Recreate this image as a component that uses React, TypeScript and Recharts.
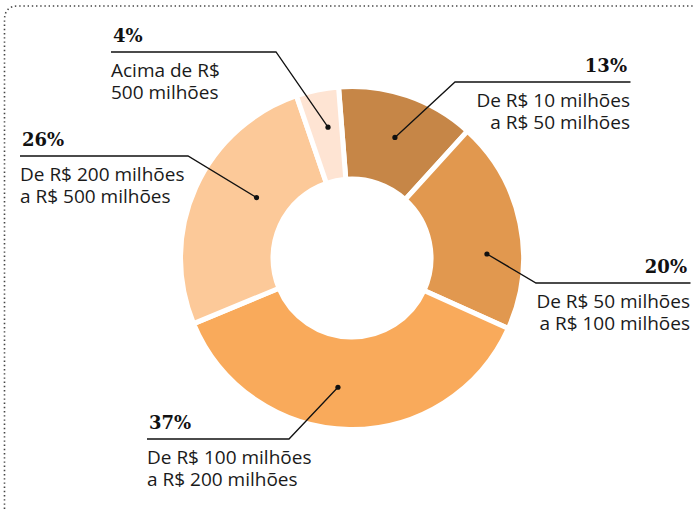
import { Pie, PieChart, Cell } from "recharts";

const faixas = [
  ["De R$ 10 milhões", "a R$ 50 milhões"],
  ["De R$ 50 milhões", "a R$ 100 milhões"],
  ["De R$ 100 milhões", "a R$ 200 milhões"],
  ["De R$ 200 milhões", "a R$ 500 milhões"],
  ["Acima de R$", "500 milhões"],
];
const percentuais = [13, 20, 37, 26, 4];
const cores = ["#c68647", "#e1984f", "#f9aa5b", "#fcc999", "#fee4d3"];

const data = percentuais.map((v, i) => ({ name: faixas[i].join(" "), value: v }));

// posição das chamadas: ajuste do ângulo do ponto, raio, cotovelo e fim da linha
const chamadas = [
  { shift: -0.7, r: 128, ex: 455, ey: 82, tx: 630, anchor: "end" },
  { shift: -10, r: 135, ex: 536, ey: 283, tx: 690, anchor: "end" },
  { shift: -5.3, r: 130, ex: 289, ey: 439, tx: 147, anchor: "start" },
  { shift: -8, r: 113, ex: 188, ey: 156, tx: 20, anchor: "start" },
  { shift: -1.3, r: 133, ex: 276, ey: 52, tx: 111, anchor: "start" },
];

const RAD = Math.PI / 180;

function Chamada(props: any) {
  const { cx, cy, midAngle, index } = props;
  const c = chamadas[index];
  const a = (midAngle + c.shift) * RAD;
  const dx = cx + c.r * Math.cos(a);
  const dy = cy - c.r * Math.sin(a);
  const endX = c.anchor === "end" ? c.tx + 0.5 : c.tx;
  return (
    <g>
      <circle cx={dx} cy={dy} r={2.6} fill="#111" />
      <polyline
        points={`${dx},${dy} ${c.ex},${c.ey} ${endX},${c.ey}`}
        fill="none"
        stroke="#111"
        strokeWidth={1.3}
      />
      <text
        x={c.anchor === "end" ? c.tx - 3 : c.tx + 2}
        y={c.ey - 10}
        textAnchor={c.anchor}
        fontFamily="'DejaVu Serif', serif"
        fontWeight="bold"
        fontSize={18}
        fill="#111"
      >
        {percentuais[index]}%
      </text>
      <text
        x={c.tx}
        y={c.ey + 25}
        textAnchor={c.anchor}
        fontFamily="'Open Sans', sans-serif"
        fontSize={19}
        fill="#1a1a1a"
      >
        {faixas[index].map((t, k) => (
          <tspan key={k} x={c.tx} dy={k === 0 ? 0 : 22}>
            {t}
          </tspan>
        ))}
      </text>
    </g>
  );
}

export default function App() {
  return (
    <div style={{ position: "absolute", left: 0, top: 0, width: 697, height: 509, background: "#fff" }}>
      <svg width={697} height={509} style={{ position: "absolute", left: 0, top: 0 }}>
        <path
          d="M4.5 509 V20 Q4.5 6 18 6 H694"
          fill="none"
          stroke="#444"
          strokeWidth={1.6}
          strokeDasharray="1.4 2.8"
        />
      </svg>
      <div style={{ position: "absolute", left: 0, top: 0 }}>
        <PieChart width={697} height={509} margin={{ top: 0, right: 0, bottom: 0, left: 0 }}>
          <Pie
            data={data}
            dataKey="value"
            nameKey="name"
            cx={352}
            cy={258}
            innerRadius={79}
            outerRadius={171.5}
            startAngle={94.5}
            endAngle={-265.5}
            stroke="#fff"
            strokeWidth={5}
            label={Chamada}
            labelLine={false}
            isAnimationActive={false}
          >
            {data.map((d, i) => (
              <Cell key={d.name} fill={cores[i]} />
            ))}
          </Pie>
        </PieChart>
      </div>
    </div>
  );
}
